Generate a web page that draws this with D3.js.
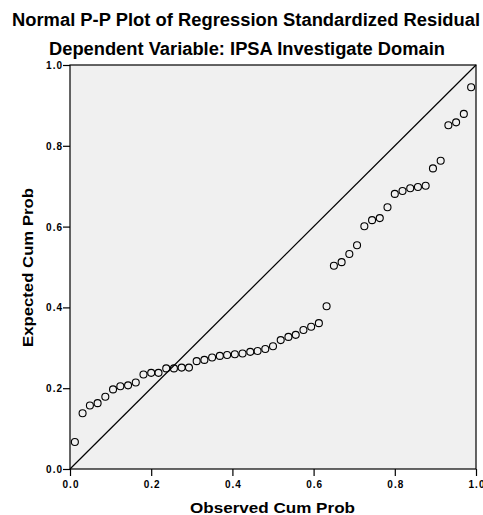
<!DOCTYPE html>
<html>
<head>
<meta charset="utf-8">
<script src="https://cdn.jsdelivr.net/npm/d3@7"></script>
<style>
html,body{margin:0;padding:0;background:#fff;}
svg{display:block;}
text{font-family:"Liberation Sans",Arial,sans-serif;font-weight:bold;fill:#000;}
</style>
</head>
<body>
<svg id="chart" width="483" height="515"></svg>
<script>
const titleLines = ["Normal P-P Plot of Regression Standardized Residual", "Dependent Variable: IPSA Investigate Domain"];
const xLabel = "Observed Cum Prob";
const yLabel = "Expected Cum Prob";
const tickValues = [0, 0.2, 0.4, 0.6, 0.8, 1.0];
const observed = [0.012,0.031,0.049,0.068,0.087,0.106,0.124,0.143,0.162,0.181,0.200,0.218,0.237,0.256,0.275,0.293,0.312,0.331,0.350,0.369,0.387,0.406,0.425,0.444,0.462,0.481,0.500,0.519,0.538,0.556,0.575,0.594,0.613,0.632,0.650,0.669,0.688,0.707,0.725,0.744,0.763,0.782,0.800,0.819,0.838,0.857,0.876,0.894,0.913,0.932,0.951,0.970,0.988];
const expected = [0.067,0.138,0.157,0.163,0.179,0.197,0.205,0.207,0.214,0.234,0.238,0.238,0.249,0.249,0.251,0.251,0.267,0.270,0.276,0.280,0.282,0.284,0.286,0.290,0.292,0.297,0.304,0.319,0.327,0.332,0.344,0.352,0.361,0.403,0.503,0.512,0.532,0.554,0.601,0.616,0.621,0.648,0.681,0.688,0.695,0.698,0.701,0.744,0.763,0.851,0.858,0.879,0.945];

const svg = d3.select("#chart");
const L = 70, R = 476, T = 65, B = 469;
const x = d3.scaleLinear().domain([0,1]).range([L,R]);
const y = d3.scaleLinear().domain([0,1]).range([B,T]);

svg.append("rect").attr("x",L).attr("y",T).attr("width",R-L).attr("height",B-T)
  .attr("fill","#f0f0f0").attr("stroke","none");

// titles
svg.append("text").attr("x",12).attr("y",26)
  .attr("textLength",468).attr("lengthAdjust","spacingAndGlyphs")
  .style("font-size","17.5px").text(titleLines[0]);
svg.append("text").attr("x",49).attr("y",55)
  .attr("textLength",396).attr("lengthAdjust","spacingAndGlyphs")
  .style("font-size","17.5px").text(titleLines[1]);

// axes
const fmt = d3.format(".1f");
const xAxis = svg.append("g").attr("transform",`translate(0,${B})`)
  .call(d3.axisBottom(x).tickValues(tickValues).tickFormat(fmt).tickSize(7).tickSizeOuter(0));
const yAxis = svg.append("g").attr("transform",`translate(${L},0)`)
  .call(d3.axisLeft(y).tickValues(tickValues).tickFormat(fmt).tickSize(7).tickSizeOuter(0));
[xAxis,yAxis].forEach(g=>{
  g.select(".domain").remove();
  g.selectAll("line").attr("stroke","#000").attr("stroke-width",1.2);
  g.selectAll("text").style("font-size","10px").style("letter-spacing","1px")
    .style("font-family","'Liberation Sans',Arial,sans-serif").style("font-weight","bold").attr("fill","#000");
});
xAxis.selectAll("text").attr("dy","0").attr("y",19).attr("dx","0.5");
yAxis.selectAll("text").attr("x",-7).attr("dy","0.35em");

// diagonal
svg.append("line").attr("x1",x(0)).attr("y1",y(0)).attr("x2",x(1)).attr("y2",y(1))
  .attr("stroke","#000").attr("stroke-width",1.2);

// frame
svg.append("rect").attr("x",L).attr("y",T).attr("width",R-L).attr("height",B-T)
  .attr("fill","none").attr("stroke","#000").attr("stroke-width",1.2);

// points
svg.append("g").selectAll("circle").data(observed.map((o,i)=>[o,expected[i]])).join("circle")
  .attr("cx",d=>x(d[0])).attr("cy",d=>y(d[1])).attr("r",3.5)
  .attr("fill","none").attr("stroke","#000").attr("stroke-width",1.1);

// axis titles
svg.append("text").attr("x",190).attr("y",513)
  .attr("textLength",165).attr("lengthAdjust","spacingAndGlyphs")
  .style("font-size","15.5px").text(xLabel);
svg.append("text").attr("transform",`translate(33,347) rotate(-90)`)
  .attr("textLength",159).attr("lengthAdjust","spacingAndGlyphs")
  .style("font-size","15.5px").text(yLabel);
</script>
</body>
</html>
